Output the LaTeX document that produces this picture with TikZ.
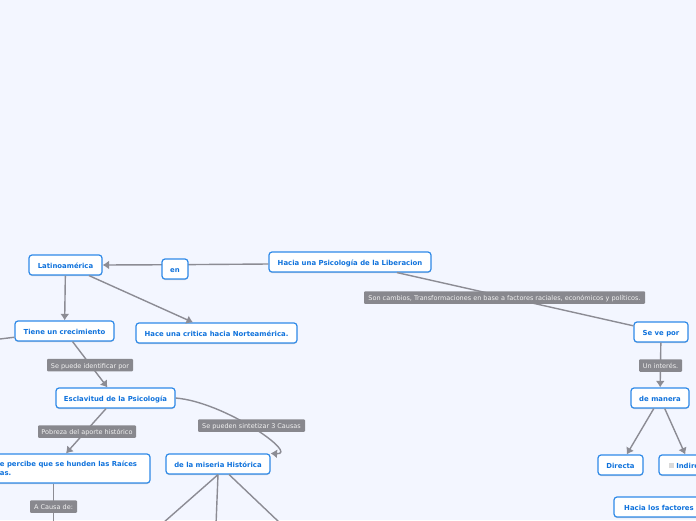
\documentclass[tikz,border=0pt]{standalone}
\usepackage{fontspec}
\setmainfont{DejaVu Sans}
\usetikzlibrary{arrows.meta,shadows}
\definecolor{fondo}{HTML}{F3F6FF}
\definecolor{borde}{HTML}{2F8AE8}
\definecolor{azul}{HTML}{0F72DC}
\definecolor{linea}{HTML}{8C8C94}
\definecolor{gris}{HTML}{88888E}
\begin{document}
\begin{tikzpicture}[x=1pt, y=-1pt, >={Latex[length=6.5pt,width=9pt]},
		tema/.style={draw=borde, line width=1.2pt, fill=white, rounded corners=3pt, text=azul,
				font=\fontsize{6.9}{9.5}\selectfont\bfseries, minimum height=20pt, inner sep=0pt,
				text height=6.5pt, text depth=0pt,
				drop shadow={opacity=0.35, shadow xshift=0pt, shadow yshift=-1pt}},
		rotulo/.style={fill=gris, rounded corners=1pt, text=white!88!gris,
				font=\fontsize{6.5}{7}\selectfont, minimum height=12.5pt, inner sep=0pt,
				text height=6pt, text depth=0pt},
		enlace/.style={draw=linea, line width=1.4pt}]
	\useasboundingbox (0,0) rectangle (696,520);
	\clip (0,0) rectangle (696,520);
	\fill[fondo] (0,0) rectangle (696,520);
	\coordinate (medioEn) at (175,264.7);
	\coordinate (finTiene) at (0,339);
	\coordinate (finRaices) at (53.5,525);
	\coordinate (finA) at (163,523);
	\coordinate (finB) at (216,525);
	\coordinate (finC) at (280,523);
	% temas
	\node[tema, minimum width=73pt] (latino) at (65.5,265) {Latinoamérica};
	\node[tema, minimum width=162pt] (hacia) at (350,262) {Hacia una Psicología de la Liberacion};
	\node[tema, minimum width=99pt] (tiene) at (64.5,331) {Tiene un crecimiento};
	\node[tema, minimum width=161pt] (hace) at (216.5,333) {Hace una critica hacia Norteamérica.};
	\node[tema, minimum width=119pt] (esclav) at (115.5,398) {Esclavitud de la Psicología};
	\node[tema, minimum width=104pt] (miseria) at (218,464) {de la miseria Histórica};
	\node[tema, minimum width=168pt, minimum height=29pt, align=left, text height=, text depth=] (raices) at (66,468.5)
		{Se percibe que se hunden las Raíces\\\phantom{S}as.};
	\node[tema, minimum width=54pt] (seve) at (661,332) {Se ve por};
	\node[tema, minimum width=58pt] (manera) at (660,398) {de manera};
	\node[tema, minimum width=45pt] (directa) at (620.5,465) {Directa};
	\node[tema, minimum width=62pt] (indirecta) at (690,465) {\textcolor{gray!30}{\rule{5pt}{5pt}} Indirecta};
	\node[tema, minimum width=90pt] (factores) at (659,507) {Hacia los factores};
	% enlaces
	\path[enlace] ([yshift=-2pt]hacia.west) -- (medioEn);
	\path[enlace, ->] (medioEn) -- (latino.east);
	\node[tema, minimum width=26pt] (en) at (175,269) {en};
	\path[enlace, ->] (latino) -- (tiene);
	\path[enlace, ->] (latino) -- (hace);
	\path[enlace] (tiene) -- (finTiene);
	\path[enlace, ->] (tiene) -- (esclav);
	\path[enlace, ->] (esclav) -- (raices.north);
	\path[enlace, ->] (esclav.east) .. controls (225,402) and (300,455) .. (miseria.north east);
	\path[enlace] (raices.south -| finRaices) -- (finRaices);
	\path[enlace] (miseria.south) -- (finA);
	\path[enlace] (miseria.south) -- (finB);
	\path[enlace] (miseria) -- (finC);
	\path[enlace] (hacia) -- (seve);
	\path[enlace, ->] (seve) -- (manera);
	\path[enlace, ->] (manera) -- (directa);
	\path[enlace, ->] (manera) -- (indirecta);
	% rotulos
	\node[rotulo, minimum width=86pt] (identificar) at (90,365) {Se puede identificar por};
	\node[rotulo, minimum width=98pt] (pobreza) at (87,431.5) {Pobreza del aporte histórico};
	\node[rotulo, minimum width=107pt] (causas) at (251.5,425.5) {Se pueden sintetizar 3 Causas};
	\node[rotulo, minimum width=47pt] (causa) at (53.5,506.5) {A Causa de:};
	\node[rotulo, minimum width=281pt] (cambios) at (504.5,297.5) {Son cambios, Transformaciones en base a factores raciales, económicos y políticos.};
	\node[rotulo, minimum width=43pt] (interes) at (660.5,365.5) {Un interés.};
\end{tikzpicture}
\end{document}
